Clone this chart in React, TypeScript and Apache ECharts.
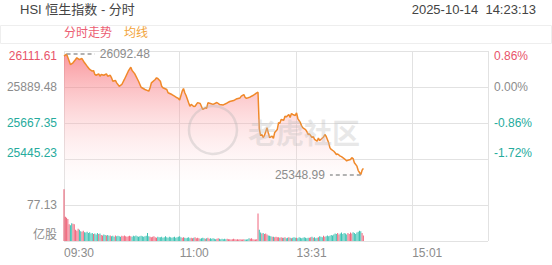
import React, { useEffect, useRef } from 'react';
import * as echarts from 'echarts';

const PREV_CLOSE = 25889.48;
const PRICE_MAX = 26111.61;
const PRICE_MIN = 25315.64;
const VOL_MAX = 130.69;
const HIGH = 26092.48;
const LOW = 25348.99;

const priceTicks = [26111.61, 25889.48, 25667.35, 25445.23];
const volumeTicks = [0, 77.13];
const timeGridTicks = [0, 90, 181, 271, 330];
const timeLabelTicks = [0, 90, 181, 271];

// minute index since 09:30 (lunch break removed)
const priceMinutes = [
  0, 2, 5, 7, 9, 10, 12, 14, 16, 18,
  20, 22, 23, 24, 25, 27, 28, 29, 31, 33,
  34, 36, 37, 38, 40, 41, 43, 45, 47, 50,
  52, 53, 55, 58, 60, 63, 66, 67, 68, 71,
  72, 73, 75, 76, 77, 80, 81, 84, 86, 88,
  89, 90, 92, 93, 94, 95, 97, 98, 99, 101,
  102, 104, 106, 108, 110, 111, 112, 114, 116, 119,
  121, 124, 127, 129, 132, 134, 137, 138, 140, 141,
  142, 145, 147, 150, 151, 152, 153, 154, 155, 156,
  158, 159, 160, 162, 163, 164, 166, 167, 168, 169,
  171, 172, 173, 175, 176, 177, 178, 180, 181, 182,
  184, 185, 186, 188, 189, 190, 191, 193, 194, 195,
  197, 198, 199, 202, 203, 204, 206, 207, 208, 210,
  211, 212, 213, 215, 216, 217, 219, 220, 221, 223,
  224, 225, 226, 228, 229, 230, 231, 232, 233,
];

const priceValues = [
  26080, 26092.48, 26028, 26039, 26059, 26070, 26059, 26065, 26039, 26018,
  25998, 25987, 25991, 25967, 25962, 25971, 25956, 25967, 25962, 25971,
  25956, 25962, 25946, 25925, 25930, 25915, 25894, 25905, 25936, 25987,
  26012, 25991, 25972, 25925, 25888, 25874, 25864, 25885, 25915, 25936,
  25946, 25942, 25925, 25894, 25885, 25874, 25854, 25843, 25833, 25823,
  25819, 25809, 25864, 25880, 25854, 25837, 25792, 25771, 25782, 25769,
  25771, 25793, 25788, 25751, 25761, 25758, 25792, 25788, 25782, 25794,
  25782, 25779, 25791, 25800, 25806, 25815, 25822, 25833, 25843, 25825,
  25819, 25828, 25837, 25853, 25857, 25633, 25590, 25596, 25578, 25590,
  25638, 25607, 25578, 25586, 25572, 25609, 25627, 25669, 25665, 25689,
  25684, 25709, 25705, 25720, 25701, 25726, 25720, 25714, 25730, 25695,
  25669, 25648, 25637, 25627, 25615, 25596, 25600, 25578, 25584, 25566,
  25555, 25575, 25559, 25581, 25596, 25586, 25545, 25514, 25504, 25493,
  25484, 25473, 25476, 25463, 25460, 25453, 25442, 25433, 25438, 25442,
  25453, 25448, 25422, 25401, 25374, 25362, 25348.99, 25376, 25387,
];

// volume per minute (亿股), minute 0..233
const volumes = [
  111,
  52, 50, 47,
  36, 34,
  38, 37, 36,
  24, 22,
  26, 24,
  21, 20, 22,
  19, 18, 20, 17, 19,
  16, 17, 15, 16, 14, 17, 15, 16,
  13, 12, 14, 13, 12, 13, 11, 12,
  10, 11, 9, 12, 10, 11, 10, 9, 11, 10, 12, 10, 9, 10, 11, 10, 9, 11, 10, 12, 10, 9, 10, 11, 10, 9, 10, 11, 17, 10,
  9, 8, 9, 10, 8, 7, 9, 8, 8, 9, 7, 8, 10, 8, 7, 9, 8, 7, 8, 9, 7, 8, 9,
  10, 8, 7, 8, 7, 6, 7, 8, 6, 7, 6, 7, 8, 6, 7, 6, 5, 6, 7, 6, 5, 6, 7, 5, 6, 5, 6, 5, 4, 5, 6, 5, 4, 5, 4, 5, 4, 5, 4, 4, 3, 4, 5, 4, 3, 4, 3, 4, 3, 3, 4, 3, 3, 4, 6, 5, 6, 4, 3, 3, 4,
  59,
  24, 18, 16, 17, 15, 16, 14, 12, 11,
  10, 9, 9, 8, 9, 8, 8, 7,
  8, 7, 7, 8, 6, 7, 8, 7, 6, 7, 8, 7, 7, 6, 8, 7, 6, 7, 8, 7, 6, 7, 7, 8, 9, 7, 8, 6, 7, 8, 10, 9, 8, 11, 9, 10, 12, 10, 11, 13, 12,
  14, 16, 15, 17, 14, 16, 18, 15, 17, 16, 14, 17, 15, 18, 16, 19, 17, 15, 18, 20, 22, 21, 17, 12,
];

const RED = '#e8546a';
const GREEN = '#26ab9d';
const GRAY = '#8c8c8c';
const FONT = '"Liberation Sans", "Noto Sans CJK SC", sans-serif';

function minuteLabel(m: number): string {
  let total = m < 150 ? 9 * 60 + 30 + m : 13 * 60 + (m - 150);
  const h = Math.floor(total / 60);
  const mm = total % 60;
  return `${String(h).padStart(2, '0')}:${String(mm).padStart(2, '0')}`;
}

function near(a: number, b: number) {
  return Math.abs(a - b) < 0.01;
}

function priceKey(v: number): string {
  const color = v > PREV_CLOSE + 0.01 ? 'up' : v < PREV_CLOSE - 0.01 ? 'dn' : 'fl';
  const pos = near(v, priceTicks[0]) ? 'T' : near(v, priceTicks[priceTicks.length - 1]) ? 'B' : 'M';
  return color + pos;
}

const richPrice: any = {};
[['up', RED], ['dn', GREEN], ['fl', GRAY]].forEach(([k, c]) => {
  richPrice[k + 'T'] = { color: c, fontSize: 12, fontFamily: FONT, padding: [9, 0, 0, 0] };
  richPrice[k + 'M'] = { color: c, fontSize: 12, fontFamily: FONT };
  richPrice[k + 'B'] = { color: c, fontSize: 12, fontFamily: FONT, padding: [0, 0, 12, 0] };
});

function barColor(i: number): string {
  let k = 0;
  for (let j = 0; j < priceMinutes.length; j++) {
    if (priceMinutes[j] <= i) k = j;
  }
  if (k === 0) return RED;
  return priceValues[k] >= priceValues[k - 1] ? '#f0657c' : '#3cc2b3';
}

export default function App() {
  const ref = useRef<HTMLDivElement>(null);
  useEffect(() => {
    if (!ref.current) return;
    const chart = echarts.init(ref.current, null, { renderer: 'svg' });
    const splitColor = '#e2e2e2';
    const option: any = {
      animation: false,
      backgroundColor: '#fff',
      textStyle: { fontFamily: FONT },
      grid: [
        { left: 64, right: 64, top: 51, height: 129 },
        { left: 64, right: 64, top: 180, bottom: 24 },
      ],
      xAxis: [0, 1].map((gi) => ({
        gridIndex: gi,
        type: 'value',
        min: 0,
        max: 330,
        axisLine: { show: false },
        axisTick: { show: false, customValues: timeGridTicks },
        splitLine: { show: true, customValues: timeGridTicks, lineStyle: { color: splitColor, width: 1 } },
        axisLabel: {
          show: gi === 1,
          customValues: timeLabelTicks,
          formatter: (v: number) => minuteLabel(v),
          align: 'left',
          color: GRAY,
          fontSize: 12,
          fontFamily: FONT,
          margin: 6,
        },
      })),
      yAxis: [
        {
          gridIndex: 0,
          type: 'value',
          position: 'left',
          min: PRICE_MIN,
          max: PRICE_MAX,
          axisLine: { show: false },
          axisTick: { show: false, customValues: priceTicks },
          splitLine: { show: true, customValues: priceTicks, lineStyle: { color: splitColor } },
          axisLabel: {
            customValues: priceTicks,
            margin: 7,
            formatter: (v: number) => `{${priceKey(v)}|${v.toFixed(2)}}`,
            rich: richPrice,
          },
        },
        {
          gridIndex: 0,
          type: 'value',
          position: 'right',
          min: PRICE_MIN,
          max: PRICE_MAX,
          axisLine: { show: false },
          axisTick: { show: false, customValues: priceTicks },
          splitLine: { show: false },
          axisLabel: {
            customValues: priceTicks,
            margin: 6,
            formatter: (v: number) => {
              const pct = ((v - PREV_CLOSE) / PREV_CLOSE) * 100;
              const s = near(v, PREV_CLOSE) ? '0.00' : pct.toFixed(2);
              return `{${priceKey(v)}|${s}%}`;
            },
            rich: richPrice,
          },
        },
        {
          gridIndex: 1,
          type: 'value',
          position: 'left',
          min: 0,
          max: VOL_MAX,
          axisLine: { show: false },
          axisTick: { show: false, customValues: volumeTicks },
          splitLine: { show: true, customValues: volumeTicks, lineStyle: { color: splitColor } },
          axisLabel: {
            customValues: volumeTicks,
            margin: 7,
            formatter: (v: number) => (v === 0 ? '{b|亿股}' : `{m|${v.toFixed(2)}}`),
            rich: {
              b: { color: GRAY, fontSize: 12, fontFamily: FONT, padding: [0, 0, 12, 0] },
              m: { color: GRAY, fontSize: 12, fontFamily: FONT },
            },
          },
        },
      ],
      graphic: [
        {
          type: 'text',
          left: 20,
          top: 3,
          style: { text: 'HSI 恒生指数 - 分时', fill: '#444', fontSize: 13, fontFamily: FONT },
        },
        {
          type: 'text',
          right: 16,
          top: 3,
          style: { text: '2025-10-14  14:23:13', fill: '#444', fontSize: 13, fontFamily: FONT },
        },
        {
          type: 'rect',
          shape: { x: 0.5, y: 25.5, width: 551, height: 18 },
          style: { fill: 'none', stroke: '#eeeeee', lineWidth: 1 },
          silent: true,
        },
        {
          type: 'text',
          left: 64,
          top: 27,
          style: { text: '分时走势', fill: '#ec5d72', fontSize: 12, fontFamily: FONT },
        },
        {
          type: 'text',
          left: 124,
          top: 27,
          style: { text: '均线', fill: '#f2a43a', fontSize: 12, fontFamily: FONT },
        },
        {
          type: 'circle',
          shape: { cx: 213, cy: 130, r: 24 },
          style: { fill: 'none', stroke: 'rgba(180,180,180,0.35)', lineWidth: 2.5 },
          silent: true,
          z: 50,
        },
        {
          type: 'text',
          left: 248,
          top: 118,
          style: {
            text: '老虎社区',
            fill: 'rgba(190,190,190,0.35)',
            fontSize: 28,
            fontWeight: 'bold',
            fontFamily: '"Noto Sans CJK SC", sans-serif',
          },
          silent: true,
          z: 50,
        },
      ],
      series: [
        {
          type: 'line',
          xAxisIndex: 0,
          yAxisIndex: 0,
          data: priceMinutes.map((m, i) => [m, priceValues[i]]),
          showSymbol: false,
          symbol: 'none',
          lineStyle: { color: '#f0892a', width: 1.5 },
          itemStyle: { color: '#f0892a' },
          areaStyle: {
            origin: 'start',
            color: new echarts.graphic.LinearGradient(0, 0, 0, 1, [
              { offset: 0, color: 'rgba(246,82,92,0.85)' },
              { offset: 1, color: 'rgba(255,235,235,0.15)' },
            ]),
          },
          markLine: {
            silent: true,
            symbol: 'none',
            lineStyle: { color: '#999', type: [4, 3], width: 1.5 },
            label: { show: true, position: 'end', color: GRAY, fontSize: 12, fontFamily: FONT, distance: 5 },
            data: [
              [
                { coord: [2, HIGH], label: { formatter: HIGH.toFixed(2) } },
                { coord: [24, HIGH] },
              ],
              [
                { coord: [231, LOW], label: { formatter: LOW.toFixed(2) } },
                { coord: [207, LOW] },
              ],
            ],
          },
        },
        {
          type: 'bar',
          xAxisIndex: 1,
          yAxisIndex: 2,
          barWidth: 1,
          data: volumes.map((v, i) => ({ value: [i, v], itemStyle: { color: barColor(i) } })),
        },
      ],
    };
    chart.setOption(option);
    return () => chart.dispose();
  }, []);
  return <div ref={ref} style={{ position: 'fixed', left: 0, top: 0, width: 552, height: 265 }} />;
}
